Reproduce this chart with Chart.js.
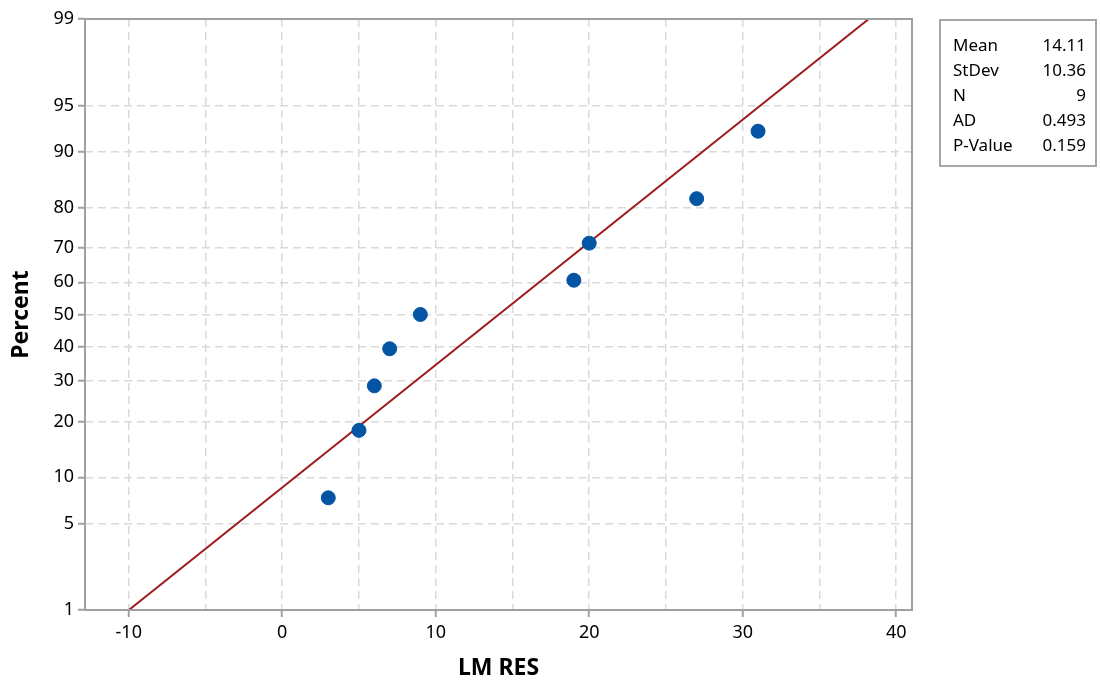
<!DOCTYPE html>
<html>
<head>
<meta charset="utf-8">
<script src="https://cdn.jsdelivr.net/npm/chart.js@4.4.1/dist/chart.umd.min.js"></script>
<style>
  html, body { margin: 0; padding: 0; background: #fff; }
  #wrap { position: relative; width: 1100px; height: 686px; }
  #stats { position: absolute; left: 939px; top: 19px; width: 154px; height: 144px;
    border: 2px solid #a6a6a6; font-family: "Noto Sans", "Open Sans", sans-serif; font-size: 17px; color: #000; }
  #stats .row { position: absolute; left: 12px; right: 9px; height: 25px; line-height: 25px; }
  #stats .row span.v { position: absolute; right: 0; }
</style>
</head>
<body>
<div id="wrap">
  <canvas id="c" width="1100" height="686"></canvas>
  <div id="stats"></div>
</div>
<script>
// ---- data ----
const lmRes = [3, 5, 6, 7, 9, 19, 20, 27, 31];
const percentRank = [7.45, 18.09, 28.72, 39.36, 50, 60.64, 71.28, 81.91, 92.55];
const yTickValues = [1, 5, 10, 20, 30, 40, 50, 60, 70, 80, 90, 95, 99];
const statLabels = ['Mean', 'StDev', 'N', 'AD', 'P-Value'];
const statValues = ['14.11', '10.36', '9', '0.493', '0.159'];
const fitMean = 14.11;
const fitStDev = 10.36;
const fitPercentEnds = [1, 99];

// inverse standard normal CDF (Acklam)
function probit(p) {
  const a = [-3.969683028665376e+01, 2.209460984245205e+02, -2.759285104469687e+02, 1.383577518672690e+02, -3.066479806614716e+01, 2.506628277459239e+00];
  const b = [-5.447609879822406e+01, 1.615858368580409e+02, -1.556989798598866e+02, 6.680131188771972e+01, -1.328068155288572e+01];
  const c = [-7.784894002430293e-03, -3.223964580411365e-01, -2.400758277161838e+00, -2.549671010115281e+00, 4.374664141464968e+00, 2.938163982698783e+00];
  const d = [7.784695709041462e-03, 3.224671290700398e-01, 2.445134137142996e+00, 3.754408661907416e+00];
  const pl = 0.02425, ph = 1 - pl;
  let q, r;
  if (p < pl) { q = Math.sqrt(-2 * Math.log(p));
    return (((((c[0]*q+c[1])*q+c[2])*q+c[3])*q+c[4])*q+c[5]) / ((((d[0]*q+d[1])*q+d[2])*q+d[3])*q+1); }
  if (p > ph) { q = Math.sqrt(-2 * Math.log(1 - p));
    return -(((((c[0]*q+c[1])*q+c[2])*q+c[3])*q+c[4])*q+c[5]) / ((((d[0]*q+d[1])*q+d[2])*q+d[3])*q+1); }
  q = p - 0.5; r = q * q;
  return (((((a[0]*r+a[1])*r+a[2])*r+a[3])*r+a[4])*r+a[5])*q / (((((b[0]*r+b[1])*r+b[2])*r+b[3])*r+b[4])*r+1);
}
function ncdf(z) {
  const t = 1 / (1 + 0.2316419 * Math.abs(z));
  const dd = 0.3989423 * Math.exp(-z * z / 2);
  let p = dd * t * (0.3193815 + t * (-0.3565638 + t * (1.781478 + t * (-1.821256 + t * 1.330274))));
  return z > 0 ? 1 - p : p;
}

class ProbitScale extends Chart.Scale {
  determineDataLimits() {
    this.min = this.options.min ?? 1;
    this.max = this.options.max ?? 99;
  }
  buildTicks() { return yTickValues.map(v => ({ value: v })); }
  getLabelForValue(v) { return String(v); }
  configure() {
    super.configure();
    this._zmin = probit(this.min / 100);
    this._zmax = probit(this.max / 100);
  }
  getPixelForValue(v) {
    const z = probit(v / 100);
    return this.getPixelForDecimal((z - this._zmin) / (this._zmax - this._zmin));
  }
  getValueForPixel(px) {
    const d = this.getDecimalForPixel(px);
    return 100 * ncdf(this._zmin + d * (this._zmax - this._zmin));
  }
  getPixelForTick(i) { return this.getPixelForValue(this.ticks[i].value); }
}
ProbitScale.id = 'probit';
ProbitScale.defaults = {};
Chart.register(ProbitScale);

const scatterPts = lmRes.map((x, i) => ({ x: x, y: percentRank[i] }));
const fitPts = fitPercentEnds.map(p => ({ x: fitMean + fitStDev * probit(p / 100), y: p }));

const frame = {
  id: 'frame',
  afterDatasetsDraw(chart) {
    const { ctx, chartArea: a } = chart;
    ctx.save();
    ctx.strokeStyle = '#a0a0a0';
    ctx.lineWidth = 2;
    ctx.setLineDash([]);
    ctx.strokeRect(a.left, a.top, a.right - a.left, a.bottom - a.top);
    ctx.restore();
  }
};

const FONT = '"Noto Sans", "Open Sans", sans-serif';

new Chart(document.getElementById('c'), {
  type: 'scatter',
  data: {
    datasets: [
      { type: 'line', data: fitPts, borderColor: '#9e1b1b', borderWidth: 2, pointRadius: 0, fill: false, order: 2 },
      { data: scatterPts, backgroundColor: '#0454a4', borderColor: '#0454a4', pointRadius: 7, pointHoverRadius: 7, order: 1 }
    ]
  },
  options: {
    responsive: false,
    animation: false,
    events: [],
    layout: { padding: { left: 0, top: 19, right: 188, bottom: 0 } },
    plugins: { legend: { display: false }, tooltip: { enabled: false } },
    scales: {
      x: {
        type: 'linear', min: -12.85, max: 41.03,
        afterBuildTicks(s) { const t = []; for (let v = -10; v <= 40; v += 5) t.push({ value: v }); s.ticks = t; },
        afterFit(s) { s.height = 76; },
        border: { display: false, dash: [8, 5] },
        grid: {
          color: '#dadada', lineWidth: 1.5, drawTicks: true, tickLength: 7,
          tickColor: ctx => (ctx.tick && ctx.tick.value % 10 === 0) ? '#a0a0a0' : 'rgba(0,0,0,0)',
          tickWidth: 2, tickBorderDash: []
        },
        ticks: {
          color: '#000', padding: 5, maxRotation: 0, autoSkip: false,
          font: { family: FONT, size: 18 },
          callback: v => (v % 10 === 0 ? String(v) : '')
        },
        title: { display: true, text: 'LM RES', color: '#000', font: { family: FONT, size: 23, weight: 'bold' }, padding: { top: 6 } }
      },
      y: {
        type: 'probit', min: 1, max: 99,
        afterFit(s) { s.width = 85; },
        border: { display: false, dash: [8, 5] },
        grid: { color: '#dadada', lineWidth: 1.5, drawTicks: true, tickLength: 7, tickColor: '#a0a0a0', tickWidth: 2, tickBorderDash: [] },
        ticks: { color: '#000', padding: 4, autoSkip: false, font: { family: FONT, size: 18 }, callback: v => String(v) },
        title: { display: true, text: 'Percent', color: '#000', font: { family: FONT, size: 23, weight: 'bold' }, padding: { top: 8, bottom: 0 } }
      }
    }
  },
  plugins: [frame]
});

// stats box
const box = document.getElementById('stats');
statLabels.forEach((l, i) => {
  const r = document.createElement('div');
  r.className = 'row';
  r.style.top = (11 + i * 25) + 'px';
  r.innerHTML = '<span>' + l + '</span><span class="v">' + statValues[i] + '</span>';
  box.appendChild(r);
});
</script>
</body>
</html>
